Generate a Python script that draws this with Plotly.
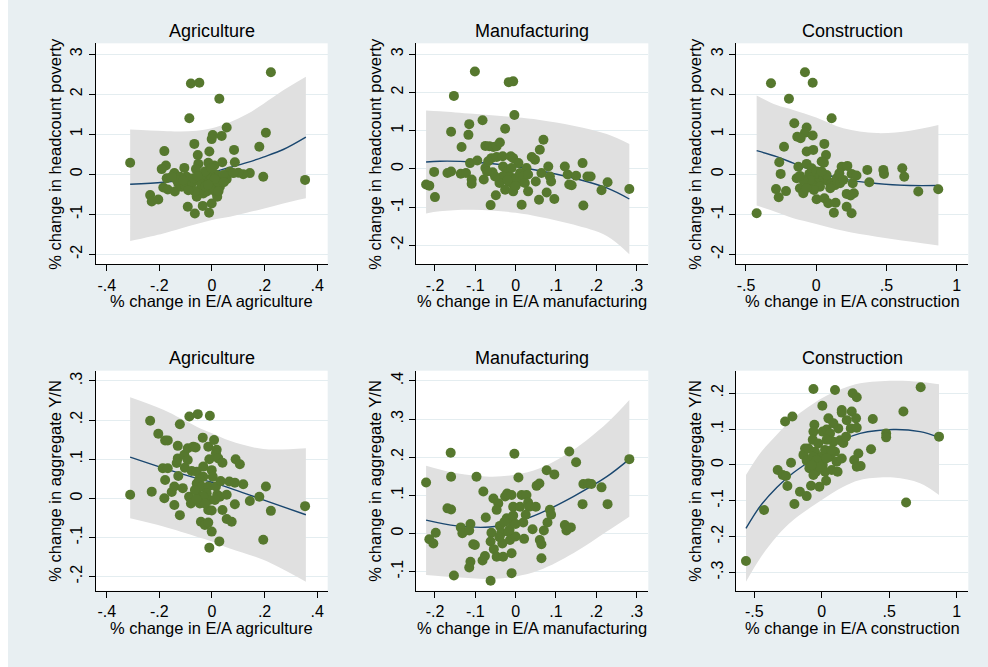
import plotly.graph_objects as go

# ---------------- data ----------------
# Top row: % change in headcount poverty
pov_agr_x = [-0.311, -0.080, -0.048, 0.028, -0.086, 0.224, 0.205, 0.180, 0.195, 0.354,
             0.056, 0.037, 0.003, -0.001, 0.084, 0.087, -0.067, -0.054, -0.010, -0.181,
             0.144, 0.119, 0.100, 0.068, 0.039, 0.009, -0.014, -0.052, -0.105, -0.061,
             -0.175, -0.191, -0.143, -0.172, -0.185, -0.168, -0.141, -0.128, -0.115, -0.235,
             -0.229, -0.204, -0.092, -0.065, -0.035, -0.011, -0.001, 0.018, 0.020, -0.058,
             -0.033, -0.084, -0.103, -0.075, -0.046, -0.020, -0.008, 0.011, 0.030, 0.033,
             0.056, 0.062, 0.018, -0.004, -0.033, -0.027, -0.001, -0.096, -0.122, -0.134,
             -0.153, -0.020, -0.046, -0.065, 0.003, -0.010, 0.043, 0.081, -0.070, -0.040,
             0.000, 0.022, -0.110, -0.090, 0.045, -0.025, -0.055, 0.010, -0.015, 0.025]
pov_agr_y = [0.29, 2.27, 2.29, 1.89, 1.40, 2.55, 1.04, 0.69, -0.06, -0.14,
             1.17, 0.96, 0.98, 0.88, 0.61, 0.30, 0.76, 0.48, 0.57, 0.58,
             0.03, 0.00, 0.04, 0.07, 0.30, 0.22, 0.29, 0.26, 0.16, 0.13,
             0.22, 0.13, 0.03, -0.10, -0.33, -0.38, -0.43, -0.23, -0.31, -0.52,
             -0.68, -0.63, -0.81, -0.98, -0.79, -0.96, -0.73, -0.48, -0.56, -0.56,
             -0.48, -0.35, -0.27, -0.22, -0.14, -0.22, -0.35, -0.27, -0.31, -0.14,
             -0.12, 0.03, -0.02, -0.06, -0.06, 0.07, 0.15, -0.06, -0.06, -0.14,
             -0.06, -0.43, -0.39, -0.43, -0.39, -0.18, -0.02, 0.03, -0.10, -0.25,
             -0.10, -0.20, -0.15, -0.40, -0.20, -0.30, -0.05, -0.12, -0.26, -0.42]

pov_man_x = [-0.222, -0.214, -0.200, -0.202, -0.169, -0.160, -0.153, -0.160, -0.134, -0.136,
             -0.123, -0.115, -0.117, -0.113, -0.109, -0.109, -0.101, -0.095, -0.082, -0.079,
             -0.075, -0.075, -0.065, -0.055, -0.047, -0.039, -0.062, -0.049, -0.060, -0.047,
             -0.032, -0.026, -0.017, -0.006, -0.003, -0.012, -0.006, 0.007, 0.027, 0.015,
             0.015, 0.031, 0.040, 0.048, 0.060, 0.069, 0.064, 0.081, 0.085, 0.088,
             0.077, 0.058, 0.096, 0.050, 0.122, 0.129, 0.133, 0.139, 0.150, 0.166,
             0.168, 0.178, 0.186, 0.213, 0.228, 0.282, -0.031, -0.022, -0.014, -0.010,
             -0.018, -0.006, 0.002, 0.011, -0.032, -0.040, -0.051, -0.057, -0.026, -0.006,
             0.019, 0.023, 0.031, -0.071, -0.068, -0.020, 0.000]
pov_man_y = [-0.41, -0.44, -0.74, -0.08, -0.11, -0.07, 1.91, 0.97, 0.57, -0.13,
             -0.11, 1.17, 0.89, 0.15, -0.28, -0.39, 2.55, 0.22, 1.27, -0.28,
             0.02, 0.60, 0.59, 0.57, 0.59, 0.69, -0.95, -0.69, 0.28, 0.31,
             0.33, 1.05, 2.27, 2.29, 1.41, 0.33, 0.28, 0.15, 0.02, -0.33,
             -0.94, -0.59, 0.31, 0.24, 0.50, 0.76, -0.11, 0.06, -0.20, -0.33,
             -0.62, -0.81, -0.79, -0.33, 0.06, -0.15, -0.41, -0.43, -0.18, 0.15,
             -0.96, -0.20, -0.20, -0.56, -0.35, -0.53, 0.06, -0.07, -0.20, 0.02,
             -0.33, -0.41, -0.24, -0.11, -0.20, -0.37, -0.20, -0.09, -0.55, -0.59,
             -0.20, -0.37, -0.15, -0.07, 0.20, -0.30, -0.45]

pov_con_x = [-0.424, -0.322, -0.194, -0.156, -0.229, -0.263, -0.253, -0.286, -0.267, -0.215,
             -0.080, -0.025, 0.110, -0.068, -0.080, -0.135, -0.111, -0.025, -0.068, -0.021,
             0.058, 0.070, 0.039, 0.055, -0.127, -0.068, -0.032, -0.139, -0.116, -0.092,
             -0.061, 0.003, 0.058, 0.086, 0.138, 0.126, 0.217, 0.252, 0.217, 0.245,
             0.268, 0.260, 0.252, 0.287, 0.181, 0.222, 0.364, 0.378, 0.478, 0.483,
             0.613, 0.627, 0.727, 0.869, -0.049, -0.021, 0.003, 0.027, 0.050, 0.086,
             0.110, 0.134, 0.146, 0.170, 0.074, 0.003, -0.025, -0.044, -0.092, -0.116,
             0.027, -0.016, 0.165, 0.193, 0.039, -0.070, 0.100]
pov_con_y = [-0.975, 2.275, 1.89, 1.275, 0.69, 0.30, 0.01, -0.37, -0.575, -0.42,
             2.55, 2.29, 1.40, 1.17, 1.04, 0.94, 0.90, 0.97, 0.57, 0.61,
             0.76, 0.48, 0.32, 0.29, 0.19, 0.26, 0.15, -0.10, -0.35, -0.475,
             -0.31, -0.625, -0.60, -0.725, -0.71, -0.96, -0.81, -0.975, -0.49, -0.53,
             -0.475, -0.225, 0.01, -0.03, 0.19, 0.21, 0.11, -0.20, 0.11, 0.01,
             0.15, -0.06, -0.43, -0.375, 0.01, -0.06, 0.07, -0.06, -0.14, -0.18,
             -0.225, -0.27, -0.10, -0.225, -0.02, -0.225, -0.27, -0.14, -0.14, -0.04,
             -0.31, -0.39, 0.025, -0.14, 0.07, -0.35, -0.35]

# Bottom row: % change in aggregate Y/N
gdp_agr_x = [-0.311, -0.229, -0.235, -0.204, -0.178, -0.168, -0.187, -0.168, -0.178, -0.181,
             -0.153, -0.143, -0.143, -0.130, -0.122, -0.122, -0.130, -0.134, -0.128, -0.111,
             -0.105, -0.103, -0.086, -0.092, -0.092, -0.087, -0.080, -0.071, -0.062, -0.077,
             -0.054, -0.058, -0.058, -0.052, -0.046, -0.035, -0.042, -0.027, -0.033, -0.033,
             -0.048, -0.039, -0.014, -0.008, -0.010, -0.001, 0.003, -0.014, -0.020, -0.010,
             -0.014, -0.001, -0.010, -0.001, -0.014, 0.008, 0.018, 0.015, 0.024, 0.040,
             0.015, 0.020, 0.028, 0.033, 0.040, 0.030, 0.056, 0.056, 0.075, 0.066,
             0.087, 0.090, 0.106, 0.087, 0.119, 0.144, 0.180, 0.205, 0.195, 0.224,
             0.354, -0.033, -0.027, -0.058, 0.011, -0.065]
gdp_agr_y = [0.009, 0.017, 0.198, 0.165, 0.148, 0.148, 0.077, 0.077, 0.047, 0.000,
             0.016, 0.030, -0.017, 0.134, 0.189, -0.043, 0.102, 0.090, 0.057, 0.026,
             0.111, 0.078, 0.209, 0.128, 0.098, 0.004, -0.013, 0.132, 0.130, 0.070,
             0.215, 0.068, 0.038, 0.009, -0.013, 0.155, -0.060, -0.068, 0.081, 0.055,
             0.049, 0.030, 0.132, 0.211, 0.100, 0.072, 0.055, 0.030, 0.013, -0.004,
             -0.030, -0.031, -0.126, -0.085, -0.062, 0.149, 0.124, 0.115, 0.102, 0.091,
             0.030, 0.009, -0.110, 0.044, -0.030, 0.004, 0.009, -0.053, -0.060, 0.043,
             0.040, 0.100, 0.087, -0.015, 0.036, -0.007, 0.004, 0.030, -0.106, -0.032,
             -0.020, 0.004, -0.013, -0.002, -0.004, 0.021]

gdp_man_x = [-0.222, -0.214, -0.204, -0.198, -0.169, -0.160, -0.161, -0.160, -0.153, -0.136,
             -0.132, -0.115, -0.112, -0.112, -0.115, -0.105, -0.101, -0.097, -0.080, -0.082,
             -0.076, -0.074, -0.062, -0.060, -0.062, -0.055, -0.054, -0.047, -0.043, -0.047,
             -0.039, -0.036, -0.033, -0.031, -0.026, -0.021, -0.010, -0.022, -0.014, -0.018,
             -0.014, -0.010, -0.010, -0.003, -0.006, -0.006, 0.000, 0.007, 0.011, 0.015,
             0.019, 0.021, 0.027, 0.031, 0.034, 0.025, 0.042, 0.050, 0.052, 0.059,
             0.060, 0.064, 0.064, 0.070, 0.077, 0.079, 0.085, 0.088, 0.096, 0.122,
             0.126, 0.133, 0.137, 0.150, 0.166, 0.168, 0.180, 0.188, 0.213, 0.228,
             0.282, -0.028, -0.040, -0.015, 0.000]
gdp_man_y = [0.134, -0.015, -0.026, 0.002, 0.066, 0.063, 0.212, 0.149, -0.110, 0.016,
             0.001, -0.089, -0.074, 0.025, 0.008, -0.028, -0.030, 0.149, 0.110, -0.071,
             -0.059, 0.042, -0.124, 0.002, -0.021, 0.092, -0.041, -0.061, 0.079, 0.062,
             0.020, 0.001, -0.026, -0.061, 0.097, 0.105, 0.101, 0.040, 0.035, 0.005,
             -0.017, -0.052, -0.104, 0.209, 0.070, 0.047, -0.008, 0.147, 0.070, 0.101,
             0.029, -0.014, 0.101, 0.081, 0.070, 0.049, 0.011, 0.070, 0.125, 0.131,
             -0.017, -0.028, -0.065, 0.008, 0.166, 0.029, 0.062, 0.049, 0.155, 0.022,
             0.008, 0.215, 0.016, 0.187, 0.077, 0.130, 0.131, 0.130, 0.121, 0.077,
             0.195, 0.030, -0.010, 0.010, 0.025]

gdp_con_x = [-0.562, -0.428, -0.272, -0.218, -0.327, -0.290, -0.265, -0.255, -0.228, -0.203,
             -0.162, -0.112, -0.080, -0.124, -0.136, -0.100, -0.112, -0.092, -0.062, -0.055,
             -0.062, -0.067, -0.050, -0.067, -0.043, -0.062, -0.026, -0.018, 0.004, 0.007,
             0.000, 0.007, 0.024, 0.024, 0.032, 0.036, 0.049, 0.061, 0.061, 0.074,
             0.098, 0.086, 0.098, 0.110, 0.117, 0.122, 0.136, 0.148, 0.148, 0.148,
             0.160, 0.180, 0.185, 0.222, 0.229, 0.259, 0.215, 0.254, 0.259, 0.240,
             0.259, 0.271, 0.288, 0.365, 0.378, 0.477, 0.477, 0.605, 0.625, 0.733,
             0.869, -0.038, -0.013, 0.036, 0.074, 0.036, -0.075, 0.086]
gdp_con_y = [-0.268, -0.126, 0.121, 0.135, -0.014, -0.028, -0.031, -0.059, 0.006, -0.109,
             -0.075, -0.087, -0.058, 0.046, 0.028, 0.046, 0.012, -0.009, 0.212, 0.112,
             0.093, 0.070, 0.037, 0.023, -0.019, -0.028, 0.060, -0.061, 0.165, 0.093,
             0.023, 0.000, 0.042, -0.019, -0.044, 0.099, 0.130, 0.088, 0.023, -0.014,
             0.209, 0.065, 0.037, 0.009, -0.019, 0.102, 0.069, 0.153, 0.146, 0.018,
             0.061, 0.079, 0.125, 0.149, 0.200, 0.189, 0.102, 0.130, 0.104, 0.014,
             -0.005, 0.032, -0.003, 0.044, 0.128, 0.088, 0.077, 0.149, -0.105, 0.217,
             0.079, 0.014, -0.005, 0.019, 0.042, 0.070, 0.000, 0.116]

# Quadratic fit lines and confidence bands
fit_pov_agr_x = [-0.311, -0.185, -0.122, -0.058, 0.0, 0.068, 0.132, 0.195, 0.271, 0.357]
fit_pov_agr_y = [-0.25, -0.20, -0.15, -0.08, 0.05, 0.17, 0.29, 0.43, 0.62, 0.93]
ci_pov_agr_hi = [1.12, 1.08, 1.07, 1.09, 1.15, 1.30, 1.50, 1.76, 2.10, 2.44]
ci_pov_agr_lo = [-1.67, -1.48, -1.36, -1.24, -1.14, -1.06, -0.96, -0.86, -0.73, -0.60]

fit_pov_man_x = [-0.222, -0.188, -0.105, 0.0, 0.060, 0.143, 0.226, 0.282]
fit_pov_man_y = [0.18, 0.20, 0.18, 0.06, -0.05, -0.24, -0.50, -0.79]
ci_pov_man_hi = [1.53, 1.51, 1.44, 1.35, 1.28, 1.13, 0.91, 0.65]
ci_pov_man_lo = [-1.17, -1.11, -1.07, -1.15, -1.26, -1.46, -1.76, -2.24]

fit_pov_con_x = [-0.424, -0.282, -0.163, 0.0, 0.193, 0.430, 0.668, 0.870]
fit_pov_con_y = [0.59, 0.44, 0.28, 0.07, -0.12, -0.23, -0.28, -0.28]
ci_pov_con_hi = [1.97, 1.73, 1.61, 1.42, 1.15, 1.03, 1.09, 1.23]
ci_pov_con_lo = [-0.78, -0.95, -1.10, -1.24, -1.41, -1.56, -1.68, -1.78]

fit_gdp_agr_x = [-0.311, -0.185, -0.058, 0.0, 0.068, 0.195, 0.357]
fit_gdp_agr_y = [0.105, 0.077, 0.051, 0.041, 0.026, -0.004, -0.042]
ci_gdp_agr_hi = [0.258, 0.226, 0.183, 0.166, 0.147, 0.126, 0.128]
ci_gdp_agr_lo = [-0.051, -0.072, -0.098, -0.110, -0.128, -0.157, -0.213]

fit_gdp_man_x = [-0.222, -0.146, -0.064, 0.0, 0.060, 0.143, 0.226, 0.282]
fit_gdp_man_y = [0.035, 0.020, 0.017, 0.030, 0.053, 0.097, 0.149, 0.195]
ci_gdp_man_hi = [0.178, 0.158, 0.149, 0.154, 0.171, 0.219, 0.289, 0.350]
ci_gdp_man_lo = [-0.109, -0.115, -0.119, -0.113, -0.096, -0.052, 0.005, 0.044]

fit_gdp_con_x = [-0.562, -0.458, -0.334, -0.211, 0.0, 0.160, 0.284, 0.531, 0.728, 0.869]
fit_gdp_con_y = [-0.177, -0.116, -0.063, -0.022, 0.032, 0.070, 0.088, 0.099, 0.093, 0.077]
ci_gdp_con_hi = [-0.028, 0.032, 0.084, 0.130, 0.186, 0.214, 0.228, 0.235, 0.232, 0.225]
ci_gdp_con_lo = [-0.326, -0.261, -0.200, -0.154, -0.098, -0.061, -0.042, -0.035, -0.051, -0.084]

# Labels
panel_titles = ["Agriculture", "Manufacturing", "Construction"]
x_titles = ["% change in E/A agriculture", "% change in E/A manufacturing",
            "% change in E/A construction"]
y_titles = ["% change in headcount poverty", "% change in aggregate Y/N"]

xt_agr = [-0.4, -0.2, 0, 0.2, 0.4]
xl_agr = ["-.4", "-.2", "0", ".2", ".4"]
xt_man = [-0.2, -0.1, 0, 0.1, 0.2, 0.3]
xl_man = ["-.2", "-.1", "0", ".1", ".2", ".3"]
xt_con = [-0.5, 0, 0.5, 1]
xl_con = ["-.5", "0", ".5", "1"]
yt_pov = [-2, -1, 0, 1, 2, 3]
yl_pov = ["-2", "-1", "0", "1", "2", "3"]
yt_gdp_agr = [-0.2, -0.1, 0, 0.1, 0.2, 0.3]
yl_gdp_agr = ["-.2", "-.1", "0", ".1", ".2", ".3"]
yt_gdp_man = [-0.1, 0, 0.1, 0.2, 0.3, 0.4]
yl_gdp_man = ["-.1", "0", ".1", ".2", ".3", ".4"]
yt_gdp_con = [-0.3, -0.2, -0.1, 0, 0.1, 0.2]
yl_gdp_con = ["-.3", "-.2", "-.1", "0", ".1", ".2"]

# ---------------- styling / layout ----------------
W, H = 988, 667
BG = "#e8eff2"
DOT = "#56782e"
LINE = "#1a476f"
BAND = "#e0e0e0"
GRID = "#e4edf0"
FONT = "Arial, Liberation Sans, sans-serif"

col_px = [(95.7, 327.7), (416.0, 648.3), (736.0, 968.3)]
row_px = [(43.3, 264.3), (370.7, 590.7)]

panels = [
    (0, 0, pov_agr_x, pov_agr_y, fit_pov_agr_x, fit_pov_agr_y, ci_pov_agr_hi, ci_pov_agr_lo,
     [-0.442, 0.44], xt_agr, xl_agr, [-2.25, 3.275], yt_pov, yl_pov),
    (0, 1, pov_man_x, pov_man_y, fit_pov_man_x, fit_pov_man_y, ci_pov_man_hi, ci_pov_man_lo,
     [-0.247, 0.329], xt_man, xl_man, [-2.50, 3.287], yt_pov, yl_pov),
    (0, 2, pov_con_x, pov_con_y, fit_pov_con_x, fit_pov_con_y, ci_pov_con_hi, ci_pov_con_lo,
     [-0.571, 1.083], xt_con, xl_con, [-2.25, 3.275], yt_pov, yl_pov),
    (1, 0, gdp_agr_x, gdp_agr_y, fit_gdp_agr_x, fit_gdp_agr_y, ci_gdp_agr_hi, ci_gdp_agr_lo,
     [-0.442, 0.44], xt_agr, xl_agr, [-0.236, 0.326], yt_gdp_agr, yl_gdp_agr),
    (1, 1, gdp_man_x, gdp_man_y, fit_gdp_man_x, fit_gdp_man_y, ci_gdp_man_hi, ci_gdp_man_lo,
     [-0.247, 0.329], xt_man, xl_man, [-0.15, 0.427], yt_gdp_man, yl_gdp_man),
    (1, 2, gdp_con_x, gdp_con_y, fit_gdp_con_x, fit_gdp_con_y, ci_gdp_con_hi, ci_gdp_con_lo,
     [-0.636, 1.086], xt_con, xl_con, [-0.351, 0.263], yt_gdp_con, yl_gdp_con),
]

fig = go.Figure()
layout = dict(
    width=W, height=H,
    margin=dict(l=0, r=0, t=0, b=0),
    paper_bgcolor=BG, plot_bgcolor="white",
    showlegend=False,
    font=dict(family=FONT, size=16, color="black"),
)
annotations = []

for i, (r, c, px, py, fx, fy, hi, lo, xr, xt, xl, yr, yt, yl) in enumerate(panels):
    assert len(px) == len(py), (i, len(px), len(py))
    n = i + 1
    xa = "x" if n == 1 else f"x{n}"
    ya = "y" if n == 1 else f"y{n}"
    x0, x1 = col_px[c]
    y0, y1 = row_px[r]
    layout["xaxis" if n == 1 else f"xaxis{n}"] = dict(
        domain=[x0 / W, x1 / W], anchor=ya, range=xr,
        tickvals=xt, ticktext=xl, ticks="outside", ticklen=6, tickwidth=1,
        tickcolor="black", showline=True, linecolor="black", linewidth=1,
        showgrid=False, zeroline=False, tickfont=dict(size=16, family=FONT),
    )
    layout["yaxis" if n == 1 else f"yaxis{n}"] = dict(
        domain=[1 - y1 / H, 1 - y0 / H], anchor=xa, range=yr,
        tickvals=yt, ticktext=yl, ticks="outside", ticklen=6, tickwidth=1,
        tickcolor="black", showline=True, linecolor="black", linewidth=1,
        showgrid=True, gridcolor=GRID, gridwidth=1, zeroline=False,
        tickangle=-90, tickfont=dict(size=16, family=FONT),
    )
    # confidence band
    fig.add_trace(go.Scatter(x=fx, y=lo, xaxis=xa, yaxis=ya, mode="lines",
                             line=dict(width=0, shape="spline", color=BAND),
                             hoverinfo="skip"))
    fig.add_trace(go.Scatter(x=fx, y=hi, xaxis=xa, yaxis=ya, mode="lines",
                             line=dict(width=0, shape="spline", color=BAND),
                             fill="tonexty", fillcolor=BAND, hoverinfo="skip"))
    # fitted line
    fig.add_trace(go.Scatter(x=fx, y=fy, xaxis=xa, yaxis=ya, mode="lines",
                             line=dict(width=1.4, shape="spline", color=LINE)))
    # data points
    fig.add_trace(go.Scatter(x=px, y=py, xaxis=xa, yaxis=ya, mode="markers",
                             marker=dict(size=10, color=DOT, line=dict(width=0))))

    cx = (x0 + x1) / 2
    title_y = [31, 358][r]
    annotations.append(dict(text=panel_titles[c], x=cx / W, y=1 - title_y / H,
                            xref="paper", yref="paper", showarrow=False,
                            xanchor="center", yanchor="middle",
                            font=dict(size=18, family=FONT, color="black")))
    xt_y = [301, 627.5][r]
    annotations.append(dict(text=x_titles[c], x=cx / W, y=1 - xt_y / H,
                            xref="paper", yref="paper", showarrow=False,
                            xanchor="center", yanchor="middle",
                            font=dict(size=16.5, family=FONT, color="black")))
    yt_x = [55, 375, 695][c]
    annotations.append(dict(text=y_titles[r], x=yt_x / W, y=1 - ((y0 + y1) / 2) / H,
                            xref="paper", yref="paper", showarrow=False, textangle=-90,
                            xanchor="center", yanchor="middle",
                            font=dict(size=16.5, family=FONT, color="black")))

layout["annotations"] = annotations
layout["shapes"] = [dict(type="rect", xref="paper", yref="paper", x0=0, x1=8 / W,
                         y0=0, y1=1, fillcolor="white", line=dict(width=0), layer="below")]
fig.update_layout(**layout)
fig.write_html("out.html",
               config={"displayModeBar": False},
               post_script="document.body.style.margin='0';document.body.style.overflow='hidden';")
